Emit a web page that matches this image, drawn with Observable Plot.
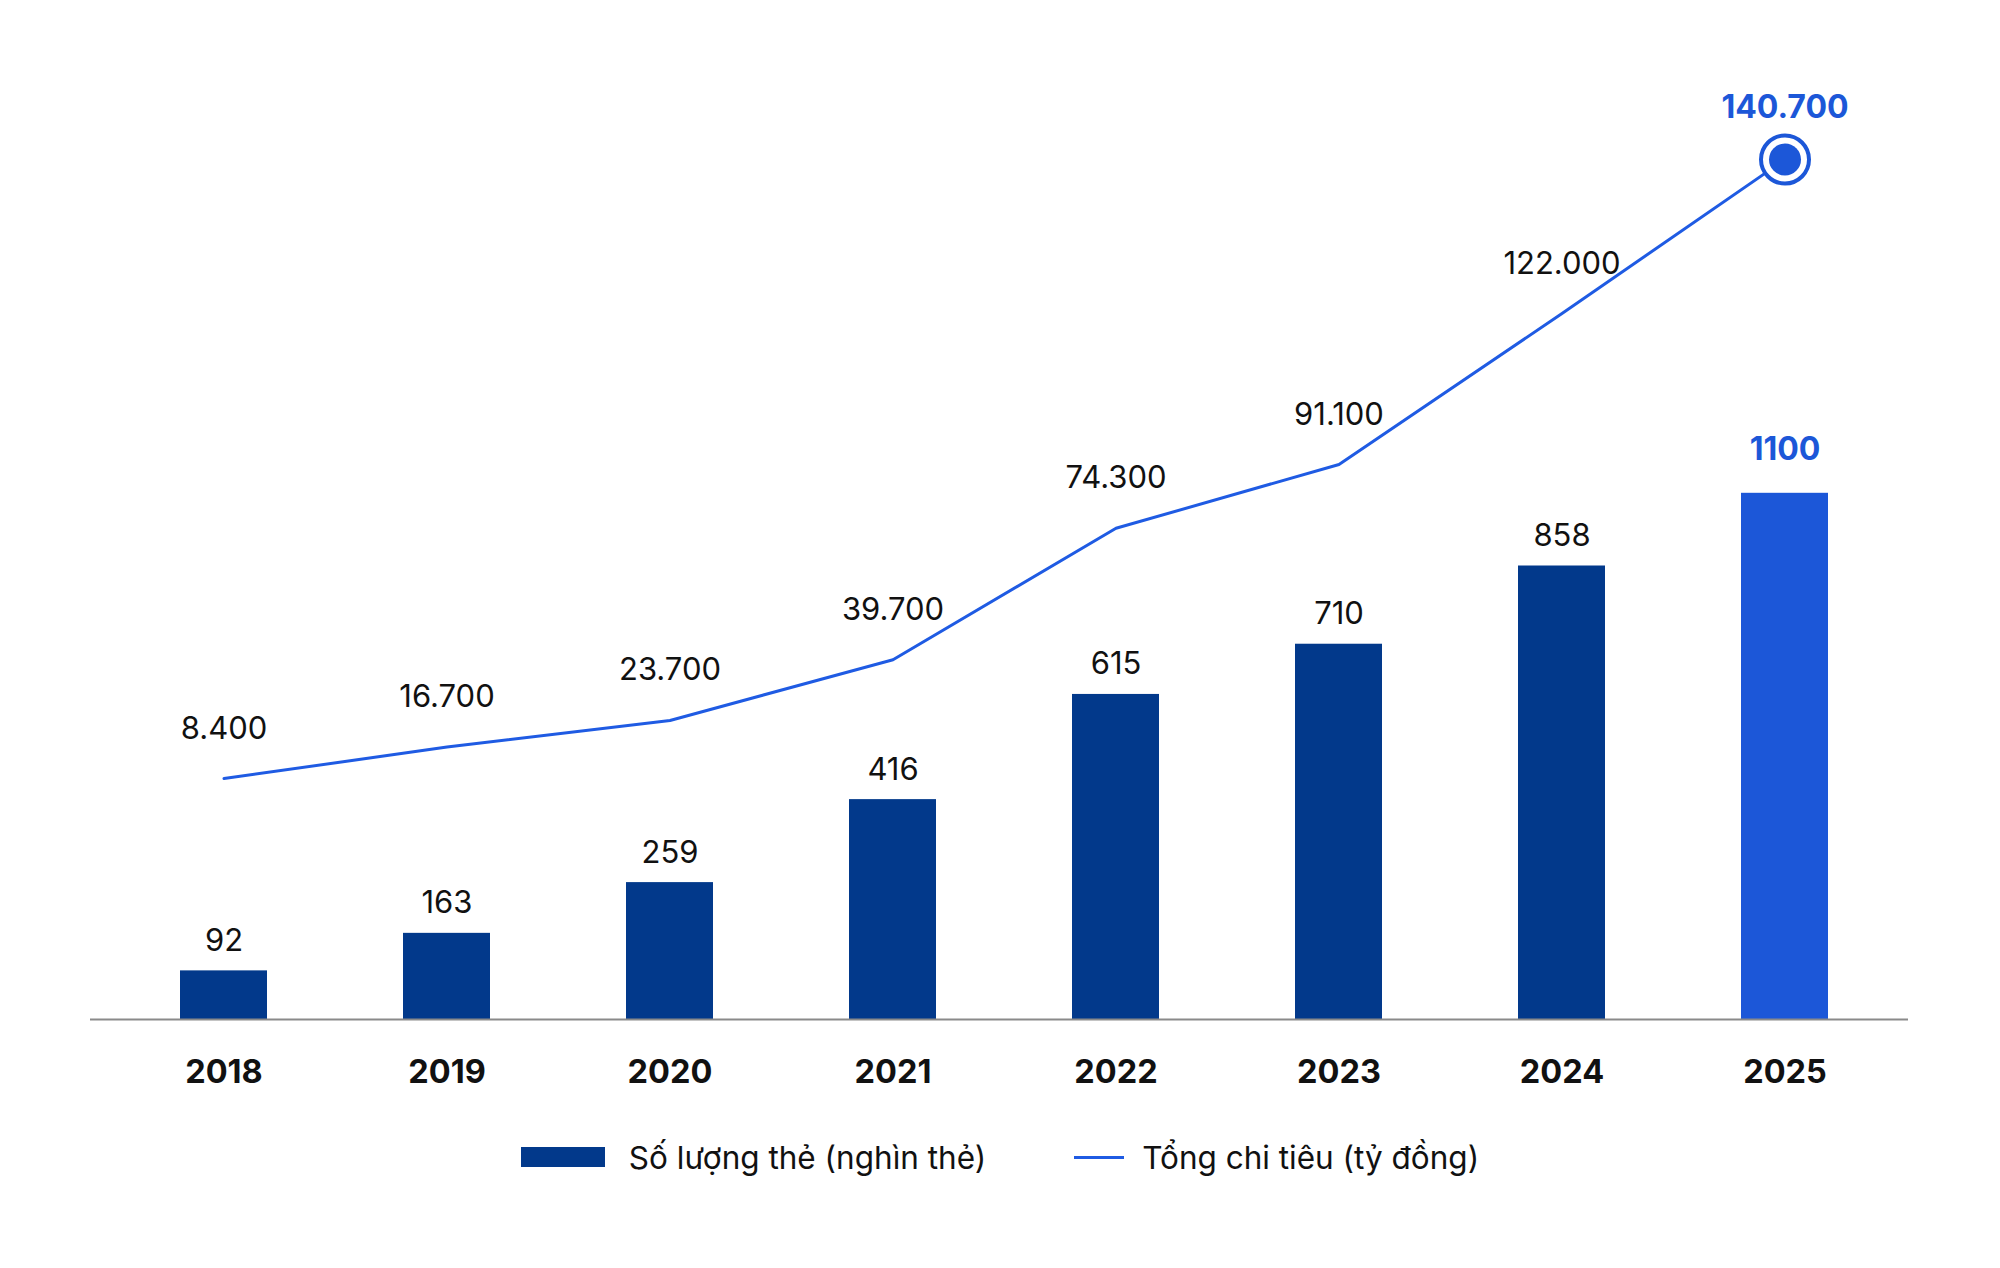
<!DOCTYPE html>
<html>
<head>
<meta charset="utf-8">
<script src="https://cdn.jsdelivr.net/npm/d3@7"></script>
<script src="https://cdn.jsdelivr.net/npm/@observablehq/plot@0.6"></script>
<style>
  html, body { margin: 0; padding: 0; background: #fff; }
  body { width: 2000px; font-family: Inter, "Noto Sans", sans-serif; }
  #chart { position: relative; width: 2000px; height: 1100px; }
  #chart svg { position: absolute; left: 0; top: 0; }
  #legend { display: flex; justify-content: center; align-items: center; height: 114px; font-size: 31.5px; color: #111; }
  .item { display: flex; align-items: center; }
  .swatch-bar { width: 84px; height: 20px; background: #02398b; margin-right: 24px; }
  .swatch-line { width: 50px; height: 3px; background: #1f5be3; margin-right: 18px; }
</style>
</head>
<body>
<div id="chart"></div>
<div id="legend">
  <div class="item" style="margin-right:88px"><div class="swatch-bar"></div><span>Số lượng thẻ (nghìn thẻ)</span></div>
  <div class="item"><div class="swatch-line"></div><span>Tổng chi tiêu (tỷ đồng)</span></div>
</div>
<script>
const years = ["2018", "2019", "2020", "2021", "2022", "2023", "2024", "2025"];
const cards = [92, 163, 259, 416, 615, 710, 858, 1100];          // Số lượng thẻ (nghìn thẻ)
const spending = [8400, 16700, 23700, 39700, 74300, 91100, 122000, 140700]; // Tổng chi tiêu (tỷ đồng)
const highlightYear = "2025";

const NAVY = "#02398b";
const BLUE = "#1c57d8";
const LINE = "#1f5be3";
const fmt = d3.formatLocale({decimal: ",", thousands: ".", grouping: [3], currency: ["", ""]}).format(",");

const data = years.map((year, i) => ({year, cards: cards[i], spending: spending[i], hi: year === highlightYear}));
const normal = data.filter(d => !d.hi);
const hi = data.filter(d => d.hi);

const W = 2000, H = 1100;
const xScale = {type: "band", domain: years, paddingInner: 0.6106, paddingOuter: 0.365, align: 0.53};

const bars = Plot.plot({
  width: W, height: H,
  marginLeft: 90, marginRight: 92, marginTop: 0, marginBottom: 81,
  style: {background: "transparent", fontFamily: "Inter, sans-serif"},
  x: {...xScale, label: null},
  y: {type: "linear", domain: [0, 858, 1100], range: [1019, 565.5, 492.8], axis: null},
  marks: [
    Plot.barY(data, {x: "year", y: "cards", fill: d => d.hi ? BLUE : NAVY}),
    Plot.ruleY([0], {stroke: "#8a8a8a", strokeWidth: 2}),
    Plot.axisX({tickSize: 0, tickPadding: 40, fontSize: 32.5, fontWeight: 700, fill: "#111", label: null}),
    Plot.text(normal, {x: "year", y: "cards", text: d => String(d.cards), dy: -20, lineAnchor: "bottom", fontSize: 31, fill: "#111"}),
    Plot.text(hi, {x: "year", y: "cards", text: d => String(d.cards), dy: -33, lineAnchor: "bottom", fontSize: 32, fontWeight: 700, fill: BLUE})
  ]
});

const line = Plot.plot({
  width: W, height: H,
  marginLeft: 90, marginRight: 92, marginTop: 0, marginBottom: 81,
  style: {background: "transparent", fontFamily: "Inter, sans-serif"},
  x: {...xScale, axis: null},
  y: {type: "linear", domain: [0, 91100, 122000, 140700], range: [810, 464, 313, 159], axis: null},
  marks: [
    Plot.line(data, {x: "year", y: "spending", stroke: LINE, strokeWidth: 3}),
    Plot.dot(hi, {x: "year", y: "spending", r: 24, fill: "#fff", stroke: BLUE, strokeWidth: 4}),
    Plot.dot(hi, {x: "year", y: "spending", r: 16, fill: BLUE}),
    Plot.text(normal, {x: "year", y: "spending", text: d => fmt(d.spending), dy: -40, lineAnchor: "bottom", fontSize: 31, fill: "#111"}),
    Plot.text(hi, {x: "year", y: "spending", text: d => fmt(d.spending), dy: -42, lineAnchor: "bottom", fontSize: 32, fontWeight: 700, fill: BLUE})
  ]
});

const chart = document.getElementById("chart");
chart.appendChild(bars);
chart.appendChild(line);
</script>
</body>
</html>
